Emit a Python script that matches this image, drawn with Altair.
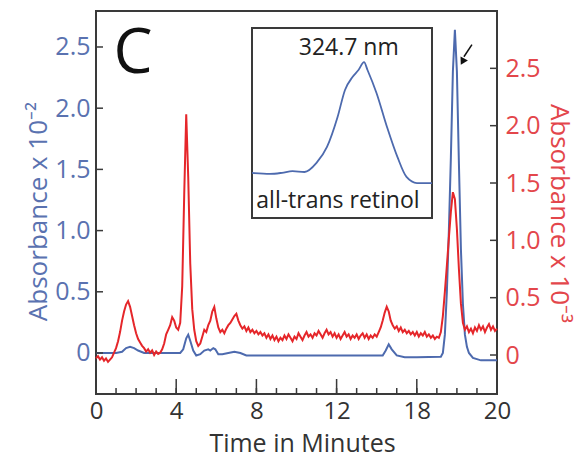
import altair as alt
import pandas as pd

FONT = "Open Sans"
BLUE = "#4d6aae"
BLUE_TXT = "#5a72b0"
RED = "#e5262a"
RED_TXT = "#e3464b"
FRAME = "#3a3a3a"
TXT = "#333333"

# ---- blue trace (left axis, Absorbance x 10^-2) ----
blue_time = [0.0, 1.0, 1.3, 1.5, 1.7, 1.9, 2.1, 2.4, 4.2, 4.35, 4.5, 4.6, 4.7, 4.85, 5.0, 5.2,
             5.4, 5.6, 5.7, 5.85, 5.95, 6.1, 6.3, 6.6, 6.9, 7.2, 7.5, 14.3, 14.45, 14.6, 14.75,
             15.0, 15.4, 16.0, 17.2, 17.3, 17.4, 17.5, 17.6, 17.7, 17.8, 17.9, 18.0, 18.1, 18.2,
             18.3, 18.4, 18.5, 18.6, 18.8, 19.2, 19.6, 20.0]
blue_abs = [0.0, 0.0, 0.01, 0.04, 0.05, 0.04, 0.02, 0.0, 0.0, 0.03, 0.12, 0.15, 0.10, 0.02, -0.02, -0.01,
            0.02, 0.03, 0.02, 0.04, 0.03, -0.01, -0.01, 0.0, 0.01, 0.0, -0.02, -0.02, 0.02, 0.07, 0.03,
            -0.02, -0.035, -0.035, -0.03, 0.0, 0.15, 0.5, 1.0, 1.6, 2.3, 2.64, 2.3, 1.55, 0.85,
            0.40, 0.15, 0.05, 0.0, -0.04, -0.06, -0.06, -0.06]

# ---- red trace (right axis, Absorbance x 10^-3), sampled every 0.1 min ----
red_time = [round(i * 0.1, 1) for i in range(201)]
red_abs = [
    -0.03, -0.01, -0.04, -0.02, -0.05, -0.03, -0.06, -0.04, -0.02, 0.02,
    0.06, 0.12, 0.20, 0.30, 0.38, 0.44, 0.47, 0.42, 0.34, 0.26,
    0.19, 0.14, 0.11, 0.08, 0.06, 0.03, 0.05, 0.02, 0.04, 0.00,
    0.03, 0.01, 0.02, 0.05, 0.10, 0.18, 0.22, 0.26, 0.33, 0.30,
    0.24, 0.22, 0.28, 0.60, 1.40, 2.10, 1.55, 0.80, 0.40, 0.22,
    0.12, 0.08, 0.10, 0.16, 0.22, 0.20, 0.26, 0.30, 0.38, 0.42,
    0.32, 0.24, 0.20, 0.22, 0.19, 0.23, 0.26, 0.28, 0.31, 0.34,
    0.36, 0.30, 0.26, 0.23, 0.25, 0.21, 0.24, 0.20, 0.22, 0.19,
    0.21, 0.18, 0.20, 0.17, 0.19, 0.15, 0.18, 0.14, 0.17, 0.13,
    0.16, 0.12, 0.15, 0.13, 0.17, 0.14, 0.18, 0.15, 0.12, 0.16,
    0.14, 0.19, 0.16, 0.13, 0.17, 0.20, 0.16, 0.18, 0.15, 0.19,
    0.17, 0.21, 0.18, 0.15, 0.19, 0.22, 0.18, 0.20, 0.16, 0.19,
    0.15, 0.18, 0.14, 0.17, 0.20, 0.16, 0.18, 0.14, 0.17, 0.15,
    0.18, 0.14, 0.17, 0.19, 0.15, 0.18, 0.14, 0.17, 0.15, 0.18,
    0.16, 0.20, 0.24, 0.30, 0.37, 0.42, 0.38, 0.30, 0.26, 0.23,
    0.25, 0.21, 0.24, 0.20, 0.22, 0.19, 0.21, 0.18, 0.20, 0.17,
    0.20, 0.16, 0.19, 0.17, 0.20, 0.16, 0.18, 0.15, 0.17, 0.14,
    0.16, 0.15, 0.20, 0.34, 0.55, 0.78, 1.02, 1.25, 1.42, 1.36,
    1.10, 0.75, 0.45, 0.28, 0.22, 0.25, 0.20, 0.23, 0.19, 0.24,
    0.21, 0.26, 0.22, 0.25, 0.20, 0.24, 0.27, 0.22, 0.25, 0.21,
    0.23,
]

# ---- inset UV spectrum of all-trans retinol ----
spec_nm = [250, 262, 270, 277, 285, 293, 300, 307, 312, 317, 321, 324.7, 327, 333, 340, 347, 353, 360, 370]
spec_abs = [0.237, 0.232, 0.238, 0.247, 0.242, 0.29, 0.374, 0.53, 0.674, 0.742, 0.779, 0.82, 0.779,
            0.658, 0.479, 0.32, 0.216, 0.184, 0.184]

# ---- axis ticks ----
x_major = [0, 4, 8, 12, 16, 20]
x_minor = list(range(0, 21))
y_ticks = [0, 0.5, 1.0, 1.5, 2.0, 2.5]

W, H = 401, 383

X = alt.Scale(domain=[0, 20], nice=False, zero=False)
YL = alt.Scale(domain=[-0.335, 2.794], nice=False, zero=False)
YR = alt.Scale(domain=[-0.34, 3.0], nice=False, zero=False)
IX = alt.Scale(domain=[250, 370], range=[156, 336], nice=False, zero=False)
IY = alt.Scale(domain=[0, 1], range=[207, 17], nice=False, zero=False)

blue_df = pd.DataFrame({"time": blue_time, "abs": blue_abs})
red_df = pd.DataFrame({"time": red_time, "abs": red_abs})
spec_df = pd.DataFrame({"nm": spec_nm, "abs": spec_abs})

blue = alt.Chart(blue_df).mark_line(color=BLUE, strokeWidth=2).encode(
    x=alt.X("time:Q", scale=X, axis=alt.Axis(
        values=x_major, labelExpr="datum.value == 16 ? '18' : datum.label",
        ticks=False, domain=False, grid=False, labelFlush=False,
        labelFont=FONT, labelFontSize=24, labelColor=TXT, labelPadding=5,
        title="Time in Minutes", titleFont=FONT, titleFontSize=25, titleColor=TXT,
        titleFontWeight="normal", titlePadding=8, titleX=206, titleAlign="center")),
    y=alt.Y("abs:Q", scale=YL, axis=alt.Axis(
        orient="left", values=y_ticks,
        labelExpr="datum.value == 0 ? '0' : format(datum.value, '.1f')",
        ticks=False, domain=False, grid=False, labelFlush=False,
        labelFont=FONT, labelFontSize=25, labelColor=BLUE_TXT, labelPadding=6,
        title="Absorbance x 10⁻²", titleFont=FONT, titleFontSize=26, titleColor=BLUE_TXT,
        titleFontWeight="normal", titlePadding=3, titleY=200)),
)

red = alt.Chart(red_df).mark_line(color=RED, strokeWidth=2).encode(
    x=alt.X("time:Q", scale=X, axis=None),
    y=alt.Y("abs:Q", scale=YR, axis=alt.Axis(
        orient="right", values=y_ticks,
        labelExpr="datum.value == 0 ? '0' : format(datum.value, '.1f')",
        ticks=False, domain=False, grid=False, labelFlush=False,
        labelFont=FONT, labelFontSize=25, labelColor=RED_TXT, labelPadding=8,
        title="Absorbance x 10⁻³", titleFont=FONT, titleFontSize=26, titleColor=RED_TXT,
        titleFontWeight="normal", titlePadding=5, titleY=202)),
)

xminor = alt.Chart(pd.DataFrame({"t": x_minor})).mark_rule(color=FRAME, strokeWidth=1.5).encode(
    x=alt.X("t:Q", scale=X, axis=None), y=alt.value(H), y2=alt.value(H - 6))
xmajor = alt.Chart(pd.DataFrame({"t": x_major})).mark_rule(color=FRAME, strokeWidth=1.5).encode(
    x=alt.X("t:Q", scale=X, axis=None), y=alt.value(H), y2=alt.value(H - 15))
yl_ticks = alt.Chart(pd.DataFrame({"v": y_ticks})).mark_rule(color=FRAME, strokeWidth=1.5).encode(
    y=alt.Y("v:Q", scale=YL, axis=None), x=alt.value(0), x2=alt.value(7))
yr_ticks = alt.Chart(pd.DataFrame({"v": y_ticks})).mark_rule(color=FRAME, strokeWidth=1.5).encode(
    y=alt.Y("v:Q", scale=YR, axis=None), x=alt.value(W - 7), x2=alt.value(W))

box = alt.Chart(pd.DataFrame({"x0": [250], "x1": [370], "y0": [0], "y1": [1]})).mark_rect(
    fill="white", stroke=FRAME, strokeWidth=2).encode(
    x=alt.X("x0:Q", scale=IX, axis=None), x2="x1:Q",
    y=alt.Y("y0:Q", scale=IY, axis=None), y2="y1:Q")
spec = alt.Chart(spec_df).mark_line(color=BLUE, strokeWidth=1.8, interpolate="monotone").encode(
    x=alt.X("nm:Q", scale=IX, axis=None), y=alt.Y("abs:Q", scale=IY, axis=None))
inset_text = alt.Chart(pd.DataFrame({
    "nm": [314.5, 307.3], "abs": [0.858, 0.053], "label": ["324.7 nm", "all-trans retinol"]
})).mark_text(font=FONT, fontSize=23, color="#222222", align="center", baseline="alphabetic").encode(
    x=alt.X("nm:Q", scale=IX, axis=None), y=alt.Y("abs:Q", scale=IY, axis=None), text="label:N")

panel = alt.Chart(pd.DataFrame({"t": [1.85], "v": [2.29], "label": ["C"]})).mark_text(
    font=FONT, fontSize=62, color="#111111", align="center", baseline="alphabetic").encode(
    x=alt.X("t:Q", scale=X, axis=None), y=alt.Y("v:Q", scale=YL, axis=None), text="label:N")

arrow_shaft = alt.Chart(pd.DataFrame({"t0": [18.75], "t1": [18.35], "v0": [2.52], "v1": [2.42]})).mark_rule(
    color="#111111", strokeWidth=1.5).encode(
    x=alt.X("t0:Q", scale=X, axis=None), x2="t1:Q",
    y=alt.Y("v0:Q", scale=YL, axis=None), y2="v1:Q")
arrow_head = alt.Chart(pd.DataFrame({"t": [18.28], "v": [2.38]})).mark_point(
    shape="triangle-down", filled=True, size=70, angle=28, color="#111111", opacity=1).encode(
    x=alt.X("t:Q", scale=X, axis=None), y=alt.Y("v:Q", scale=YL, axis=None))

chart = alt.layer(
    blue, red, xminor, xmajor, yl_ticks, yr_ticks, box, spec, inset_text, panel, arrow_shaft, arrow_head
).resolve_scale(x="independent", y="independent").properties(
    width=W, height=H,
    padding={"left": 96, "top": 11, "right": 85, "bottom": 65},
    autosize=alt.AutoSizeParams(type="none"),
    background="white",
).configure_view(stroke=FRAME, strokeWidth=2)

chart.save("out.html", embed_options={"renderer": "svg", "actions": False})
